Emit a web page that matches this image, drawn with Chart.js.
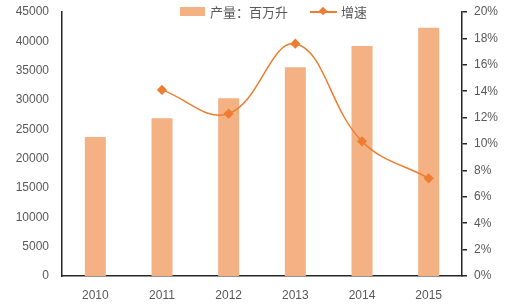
<!DOCTYPE html>
<html>
<head>
<meta charset="utf-8">
<script src="https://cdn.jsdelivr.net/npm/chart.js@4"></script>
<style>
  body { margin: 0; background: #fff; }
  #wrap { position: relative; width: 506px; height: 305px; }
  #legend { position: absolute; top: 2px; left: 180px; font: 13px "Liberation Sans", "Noto Sans CJK SC", sans-serif; color: #595959; white-space: nowrap; }
  #legend span { display: inline-block; vertical-align: middle; }
  .swatch-bar { width: 25px; height: 9px; background: #F4B183; margin-right: 5px; }
  .swatch-line { position: relative; width: 27px; height: 10px; margin: 0 4px 0 22px; }
  .swatch-line:before { content: ""; position: absolute; left: 0; right: 0; top: 4px; height: 2px; background: #ED7D31; }
  .swatch-line:after { content: ""; position: absolute; left: 10px; top: 1px; width: 6px; height: 6px; background: #ED7D31; transform: rotate(45deg); }
</style>
</head>
<body>
<div id="wrap">
  <canvas id="grafico" width="506" height="305"></canvas>
  <div id="legend"><span class="swatch-bar"></span><span>产量：百万升</span><span class="swatch-line"></span><span>增速</span></div>
</div>
<script>
// dados
var anos = ['2010', '2011', '2012', '2013', '2014', '2015'];
var producao = [23700, 26900, 30300, 35600, 39200, 42300]; // 产量：百万升
var crescimento = [null, 14.1, 12.3, 17.6, 10.2, 7.4];     // 增速 (%)

var corTexto = '#595959';
var fonte = { family: '"Liberation Sans", "Noto Sans CJK SC", sans-serif', size: 12 };

var ctx = document.getElementById('grafico').getContext('2d');

// largura fixa do eixo e sem padding extra em cima/embaixo
function ajustaEixo(largura) {
  return function (s) {
    s.width = largura;
    s.paddingTop = 0;
    s.paddingBottom = 0;
  };
}

var grafico = new Chart(ctx, {
  type: 'bar',
  data: {
    labels: anos,
    datasets: [{
      type: 'line',
      label: '增速',
      data: crescimento,
      yAxisID: 'y1',
      borderColor: '#ED7D31',
      backgroundColor: '#ED7D31',
      borderWidth: 1.5,
      tension: 0.4,
      pointStyle: 'rectRot',
      pointRadius: 4,
      order: 0
    }, {
      label: '产量：百万升',
      data: producao,
      yAxisID: 'y',
      backgroundColor: '#F4B183',
      barPercentage: 1,
      categoryPercentage: 0.315,
      order: 1
    }]
  },
  options: {
    responsive: false,
    animation: false,
    layout: { padding: { top: 12, left: 0, right: 0, bottom: 0 } },
    plugins: {
      legend: { display: false },
      tooltip: { enabled: false }
    },
    scales: {
      x: {
        grid: { display: false },
        border: { display: true, color: '#262626', width: 1.5 },
        ticks: { color: corTexto, font: fonte, padding: 4 },
        afterFit: function (s) { s.height = 29; s.paddingLeft = 0; s.paddingRight = 0; }
      },
      y: {
        position: 'left',
        min: 0,
        max: 45000,
        grid: { display: false },
        border: { display: true, color: '#262626', width: 1.5 },
        ticks: {
          stepSize: 5000, color: corTexto, font: fonte, padding: 5,
          callback: function (v) { return String(v); }
        },
        afterFit: ajustaEixo(62)
      },
      y1: {
        position: 'right',
        min: 0,
        max: 20,
        grid: { drawOnChartArea: false, drawTicks: true, tickLength: 5, color: '#262626', lineWidth: 1.5 },
        border: { display: true, color: '#262626', width: 1.5 },
        ticks: {
          stepSize: 2, color: corTexto, font: fonte, padding: 7,
          callback: function (v) { return v + '%'; }
        },
        afterFit: ajustaEixo(44)
      }
    }
  }
});
</script>
</body>
</html>
